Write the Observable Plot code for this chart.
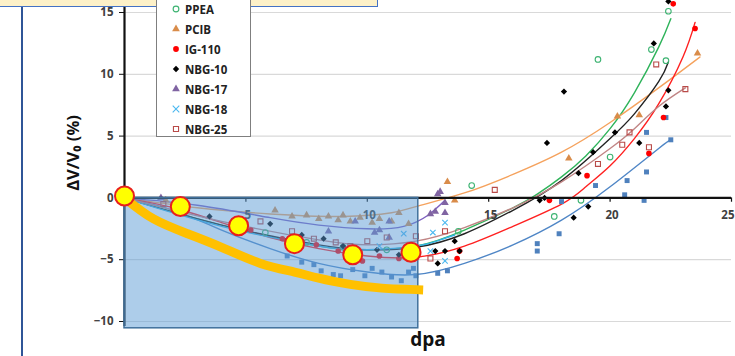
<!DOCTYPE html>
<html><head><meta charset="utf-8">
<script src="https://cdn.jsdelivr.net/npm/d3@7"></script>
<script src="https://cdn.jsdelivr.net/npm/@observablehq/plot@0.6"></script>
<style>
body{margin:0;background:#fff;}
#wrap{position:relative;width:735px;height:356px;overflow:hidden;background:#fff;font-family:"Open Sans",Lato,sans-serif;}
#topbox{position:absolute;left:-2px;top:-10px;width:378px;height:15px;background:#fdf1c8;border:1.5px solid #4472c4;}
#leftline{position:absolute;left:21px;top:0;width:2px;height:356px;background:#2f5597;}
#legend{position:absolute;left:156px;top:-14px;width:95px;height:151px;background:#fff;border:1px solid #7f7f7f;box-sizing:border-box;}
.li{position:absolute;left:14px;height:16px;display:flex;align-items:center;font-size:11.5px;font-weight:700;color:#222;}
.li svg{margin-right:4px;}
</style></head><body>
<div id="wrap"><div id="leftline"></div><div id="topbox"></div><div id="chart"></div><div id="legend"></div></div>
<script>
// ---- data ----
const xTicks = [5, 10, 15, 20, 25];
const yTicks = [-10, -5, 0, 5, 10, 15];
const gridY = [-10, -5, 5, 10, 15];
const legendNames = ["PPEA", "PCIB", "IG-110", "NBG-10", "NBG-17", "NBG-18", "NBG-25"];

// unlabeled blue square series (its legend entry is cut off)
const blueSq = [[6.7,-4.7],[7.3,-5.2],[7.8,-5.4],[8.1,-5.9],[8.6,-6.2],[8.9,-6.3],[9.4,-5.8],[9.9,-6.3],[10.2,-5.7],[10.6,-6.0],[11.0,-6.4],[11.4,-6.7],[11.7,-6.0],[11.9,-5.7],[12.0,-6.3],[12.9,-6.1],[13.3,-5.9],[17.0,-3.7],[17.0,-4.3],[17.9,-2.9],[18.0,-0.3],[19.4,1.0],[20.6,0.25],[20.7,1.4],[21.4,-0.2],[21.5,2.1],[21.5,5.3],[22.3,6.5],[22.5,4.7]];
const blueFit = [[0,0],[2,-1.0],[4,-2.6],[6,-4.1],[8,-5.3],[10,-6.0],[12,-6.2],[14,-5.3],[16,-3.8],[18,-1.8],[20,0.9],[22,4.0],[22.5,4.7]];

const ppea = [[5.8,-2.8],[7.5,-3.6],[9.0,-4.0],[10.8,-4.2],[11.6,-4.0],[13.75,-2.7],[14.3,1.0],[17.7,-1.5],[18.8,-0.2],[20.0,3.3],[19.5,11.2],[21.7,12.0],[22.3,11.1],[22.4,15.1]];
const ppeaFit = [[0,0],[4,-2.2],[8,-3.9],[10,-4.2],[12,-3.9],[14,-2.6],[16,-0.8],[17,0.3],[18,1.7],[19,3.4],[20,5.6],[21,8.5],[22,12.2],[22.5,14.5]];

const pcib = [[1.7,-0.2],[6.2,-1.0],[6.9,-1.5],[7.5,-1.4],[8.0,-1.7],[8.4,-1.5],[8.8,-1.8],[9.0,-1.4],[9.3,-1.9],[9.7,-1.6],[10.2,-2.0],[10.5,-1.7],[11.0,-1.9],[11.3,-1.2],[11.7,-2.1],[13.3,1.3],[13.6,-0.2],[18.3,3.2],[20.3,6.6],[21.2,6.7],[23.6,11.7]];
const pcibFit = [[0,0],[3,-0.8],[6,-1.3],[9,-1.5],[11,-1.2],[12,-0.7],[14,0.4],[16,1.9],[18,3.7],[20,6.1],[22,8.9],[23.7,11.4]];

const ig110 = [[5.2,-2.6],[6.5,-3.3],[7.9,-3.8],[8.8,-4.3],[9.8,-5.1],[10.5,-4.7],[11.3,-4.9],[13.7,-4.9],[13.8,-4.3],[17.5,-0.2],[19.05,1.8],[21.6,3.6],[22.2,6.5],[23.5,13.7],[22.6,15.7]];
const ig110Fit = [[0,0],[2,-0.8],[4,-2.0],[6,-3.2],[8,-4.1],[10,-4.7],[12,-4.8],[14,-3.9],[16,-2.3],[18,-0.5],[19,0.9],[20,2.6],[21,4.8],[22,7.6],[23,11.4],[23.5,14.2]];

const nbg10 = [[3.5,-1.5],[6.0,-2.1],[7.3,-3.0],[8.2,-3.3],[9.0,-3.9],[10.4,-4.2],[11.3,-4.6],[12.8,-4.3],[12.9,-5.3],[13.2,-4.3],[13.6,-3.5],[13.8,-4.3],[17.1,-0.2],[17.3,0],[17.4,4.45],[18.1,8.6],[18.5,-1.6],[18.7,2.0],[19.1,-0.7],[19.3,3.7],[20.2,5.3],[21.2,4.45],[21.8,12.5],[22.3,7.4],[22.4,8.7],[22.4,15.9]];
const nbg10Fit = [[0,0],[4,-2.2],[8,-3.8],[10,-4.2],[12,-4.0],[14,-2.9],[16,-1.0],[18,1.4],[20,4.8],[21,6.8],[22,9.4],[22.4,11.0]];

const nbg17 = [[1.5,0],[8.4,-2.7],[9.5,-1.9],[10.3,-2.8],[10.5,-2.6],[10.9,-1.9],[10.9,-3.2],[12.6,-1.3],[12.8,-1.1],[12.9,0.3],[13.0,0.5],[13.2,-0.4],[13.2,-1.2]];
const nbg17Fit = [[0,0],[3,-0.6],[6,-1.6],[8,-2.2],[10,-2.5],[11.5,-2.3],[12.5,-1.4],[13.2,-0.2]];

const nbg18 = [[10.5,-3.9],[11.5,-2.9],[12.6,-4.3],[12.7,-2.8],[13.2,-2.0],[13.2,-5.1]];
const nbg18Fit = [[0,0],[4,-2.3],[8,-3.9],[10,-4.2],[12,-3.9],[13,-3.4],[13.6,-3.0]];

const nbg25 = [[1.6,-0.5],[5.6,-1.9],[6.9,-2.7],[7.8,-3.3],[8.7,-3.6],[9.3,-3.9],[10.0,-3.5],[10.8,-3.2],[12.0,-3.1],[12.6,-4.9],[13.2,-2.7],[15.25,0.65],[19.5,2.75],[20.5,4.3],[20.8,5.3],[21.6,4.1],[21.9,10.8],[23.1,8.8]];
const nbg25Fit = [[0,0],[4,-1.9],[8,-3.4],[10,-3.8],[12,-3.5],[14,-2.4],[16,-0.8],[18,1.3],[20,4.0],[21,5.6],[22,7.4],[23.1,8.9]];

// overlay annotations
const boxRange = [{x1:0, x2:12.1, y1:-10.55, y2:0}];
const yellowPath = [[0,0],[1.2,-1.7],[2.6,-2.9],[4,-4.0],[5.6,-5.3],[7,-6.0],[8,-6.5],[9.3,-7.0],[10.6,-7.3],[12.3,-7.45]];
const yellowDots = [[0,0.15],[2.3,-0.7],[4.7,-2.25],[7.0,-3.7],[9.4,-4.6],[11.8,-4.4]];

// ---- styles ----
const series = [
  {name:"blue", pts:blueSq, fit:blueFit, line:"#4f86c6", mk:"square", fill:"#4f81bd", stroke:"none"},
  {name:"PPEA", pts:ppea, fit:ppeaFit, line:"#2eb35a", mk:"circle", fill:"none", stroke:"#3cb371"},
  {name:"PCIB", pts:pcib, fit:pcibFit, line:"#f5a25d", mk:"triangle", fill:"#d98c4a", stroke:"none"},
  {name:"IG-110", pts:ig110, fit:ig110Fit, line:"#ff2020", mk:"circle", fill:"#ff0000", stroke:"none"},
  {name:"NBG-10", pts:nbg10, fit:nbg10Fit, line:"#222", mk:"diamond2", fill:"#000", stroke:"none"},
  {name:"NBG-17", pts:nbg17, fit:nbg17Fit, line:"#7d5fc0", mk:"triangle", fill:"#8064a2", stroke:"none"},
  {name:"NBG-18", pts:nbg18, fit:nbg18Fit, line:"#35b2e6", mk:"times", fill:"none", stroke:"#4bb8f0"},
  {name:"NBG-25", pts:nbg25, fit:nbg25Fit, line:"#c08585", mk:"square", fill:"none", stroke:"#b94a48"}
];

const marks = [
  Plot.ruleY(gridY, {x1:0, x2:25, stroke:"#d9d9d9", strokeWidth:1.2})
];
for (const s of series) {
  marks.push(Plot.line(s.fit, {x:d=>d[0], y:d=>d[1], stroke:s.line, strokeWidth:1.4, curve:"natural"}));
}
for (const s of series) {
  marks.push(Plot.dot(s.pts, {x:d=>d[0], y:d=>d[1], symbol:s.mk, r:s.mk==="times"?2.6:2.8, fill:s.fill, stroke:s.stroke, strokeWidth:s.stroke==="none"?0:1.1}));
}
marks.push(
  Plot.ruleY([0], {x1:0, x2:25, stroke:"#111", strokeWidth:2.2}),
  Plot.ruleX(xTicks, {y1:0, y2:-0.35, stroke:"#111", strokeWidth:1.2}),
  Plot.text(xTicks.slice(0, -1), {x:d=>d, y:0, dy:17, dx:2, text:d=>String(d), fontSize:11.5, fontWeight:700, fill:"#404040"}),
  Plot.text(xTicks.slice(-1), {x:d=>d, y:0, dy:17, dx:3, textAnchor:"end", text:d=>String(d), fontSize:11.5, fontWeight:700, fill:"#404040"}),
  Plot.ruleX([0], {y1:-10.4, y2:16, stroke:"#111", strokeWidth:2.2}),
  Plot.axisY({ticks:yTicks, tickSize:5, tickPadding:6, fontSize:11.5, fontWeight:700, color:"#404040", label:null, stroke:"#111"}),
  Plot.rect(boxRange, {x1:"x1", x2:"x2", y1:"y1", y2:"y2", fill:"#5b9bd5", fillOpacity:0.5, stroke:"#41719c", strokeWidth:1.5}),
  Plot.line(yellowPath, {x:d=>d[0], y:d=>d[1], stroke:"#ffc000", strokeWidth:9, curve:"natural", strokeLinecap:"butt"}),
  Plot.dot(yellowDots, {x:d=>d[0], y:d=>d[1], r:9.5, fill:"#ffff00", stroke:"#e8201c", strokeWidth:2}),
  Plot.text(["dpa"], {frameAnchor:"bottom", lineAnchor:"top", dy:11, fontSize:19, fontWeight:700, fill:"#111"}),
  Plot.text(["ΔV/V₀ (%)"], {frameAnchor:"left", rotate:-90, dx:-51, dy:-14, fontSize:16.5, fontWeight:700, fill:"#111", textAnchor:"middle"})
);

const chart = Plot.plot({
  width:735, height:356,
  marginLeft:124, marginRight:4, marginTop:12, marginBottom:35,
  x:{domain:[0,25], axis:null},
  y:{domain:[-10,15], axis:null},
  style:{background:"transparent", fontFamily:"'Open Sans', Lato, sans-serif", overflow:"visible"},
  marks
});
document.getElementById("chart").appendChild(chart);

// legend
const leg = document.getElementById("legend");
const legStyle = series.slice(1);
legendNames.forEach((n, i) => {
  const s = legStyle[i];
  const div = document.createElement("div");
  div.className = "li";
  div.style.top = (14 + i*20) + "px";
  const sym = d3.symbol(s.mk==="circle"?d3.symbolCircle:s.mk==="triangle"?d3.symbolTriangle:s.mk==="diamond2"?d3.symbolDiamond2:s.mk==="times"?d3.symbolTimes:d3.symbolSquare, s.mk==="times"?30:26)();
  div.innerHTML = `<svg width="10" height="10" viewBox="-5 -5 10 10"><path d="${sym}" fill="${s.fill}" stroke="${s.stroke}" stroke-width="1.1"/></svg>${n}`;
  leg.appendChild(div);
});
</script>
</body></html>
